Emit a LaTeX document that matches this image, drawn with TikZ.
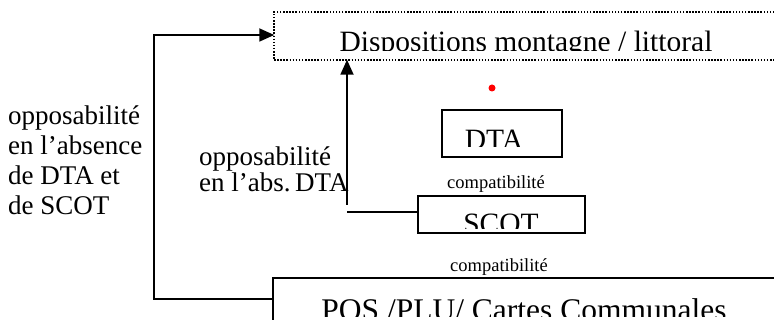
\documentclass[tikz,border=0pt]{standalone}
\usepackage{fontspec}
\setmainfont{Liberation Serif}
\usetikzlibrary{arrows.meta}
\tikzset{
  box/.style={draw, line width=1.6pt, rectangle, inner sep=0pt},
  dotbox/.style={draw, line width=1.5pt, dash pattern=on 1.5pt off 1.6pt, rectangle, inner sep=0pt},
  big/.style={font=\fontsize{29.5}{33}\selectfont, inner sep=0pt, anchor=base},
  bigger/.style={font=\fontsize{31.5}{35}\selectfont, inner sep=0pt, anchor=base},
  lbl/.style={font=\fontsize{27}{30}\selectfont, inner sep=0pt, anchor=base west, align=left},
  small/.style={font=\fontsize{18.5}{21}\selectfont, inner sep=0pt, anchor=base},
  conn/.style={line width=1.8pt},
  arr/.style={line width=1.8pt, -{Triangle[length=15pt,width=13pt]}, shorten >=-1pt}
}
\begin{document}
\begin{tikzpicture}[x=1pt,y=-1pt]
\useasboundingbox (0,0) rectangle (774,320);
\fill[white] (0,0) rectangle (774,320);
\clip (0,0) rectangle (774,320);
% boxes
\node[dotbox, minimum width=516pt, minimum height=48pt] (disp) at (532,36) {};
\node[box, minimum width=120pt, minimum height=47pt] (dta) at (502,133.5) {};
\node[box, minimum width=167pt, minimum height=37pt] (scot) at (501.5,214.5) {};
\node[box, minimum width=517pt, minimum height=62pt] (pos) at (531.5,309) {};
% clipped texts
\begin{scope}
\clip (274,12) rectangle (790,50.5);
\node[big] (tdisp) at (526,51.5) {Dispositions montagne / littoral};
\end{scope}
\begin{scope}
\clip (442,110) rectangle (562,147);
\node[big] (tdta) at (494,149.5) {DTA};
\end{scope}
\begin{scope}
\clip (418,196) rectangle (585,229);
\node[big] (tscot) at (501,233.5) {SCOT};
\end{scope}
\begin{scope}
\clip (273,278) rectangle (790,317);
\node[bigger] (tpos) at (524,321) {POS /PLU/ Cartes Communales};
\end{scope}
% red dot
\fill[red] (492,88) circle (3.5pt);
% labels
\node[small] (c1) at (496,189) {compatibilité};
\node[small] (c2) at (499,272) {compatibilité};
\node[lbl] (l1) at (8,125) {opposabilité};
\node[lbl] (l2) at (8,155) {en l’absence};
\node[lbl] (l3) at (8,185) {de DTA et};
\node[lbl] (l4) at (8,215) {de SCOT};
\node[lbl] (m1) at (199,166) {opposabilité};
\node[lbl] (m2) at (199,192) {en l’abs.\,DTA};
% connectors
\coordinate (k1) at (154,299);
\coordinate (k2) at (154,35);
\draw[arr] (pos.west |- k1) -- (k1) -- (k2) -- (disp.west |- k2);
\coordinate (s1) at (347,212);
\coordinate (s2) at (347,205);
\draw[conn] (scot.west |- s1) -- (s1);
\draw[arr] (s2) -- (disp.south -| s2);
\end{tikzpicture}
\end{document}
